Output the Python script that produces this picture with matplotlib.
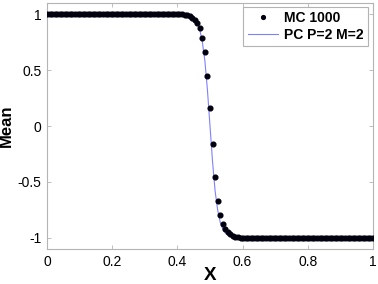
import matplotlib
matplotlib.use("Agg")
import matplotlib.pyplot as plt
import numpy as np

plt.rcParams['font.family'] = ['Liberation Sans', 'DejaVu Sans']

# Grid: 129 points from 0 to 1 (step 1/128)
n_points = 129
x = np.linspace(0.0, 1.0, n_points)

# MC 1000 values — plateau at 1, transition, plateau at -1
mc_upper = [1.0] * 52
mc_transition = [1.0, 0.999, 0.997, 0.993, 0.985, 0.97, 0.95, 0.92, 0.88, 0.79,
                 0.66, 0.45, 0.16, -0.16, -0.46, -0.67, -0.80, -0.88, -0.92, -0.95,
                 -0.97, -0.985, -0.993, -0.997, -0.999]
mc_lower = [-1.0] * (n_points - 52 - len(mc_transition))
mc_mean = mc_upper + mc_transition + mc_lower

# PC P=2 M=2 values
pc_upper = [1.0] * 52
pc_transition = [1.0, 0.999, 0.997, 0.994, 0.987, 0.975, 0.955, 0.92, 0.86, 0.75,
                 0.58, 0.32, 0.0, -0.32, -0.58, -0.75, -0.86, -0.92, -0.955, -0.975,
                 -0.987, -0.994, -0.997, -0.999, -1.0]
pc_lower = [-1.0] * (n_points - 52 - len(pc_transition))
pc_mean = pc_upper + pc_transition + pc_lower

xticks = [0, 0.2, 0.4, 0.6, 0.8, 1]
xticklabels = ['0', '0.2', '0.4', '0.6', '0.8', '1']
yticks = [-1, -0.5, 0, 0.5, 1]
yticklabels = ['-1', '-0.5', '0', '0.5', '1']

fig = plt.figure(figsize=(3.78, 2.84), dpi=100)
ax = fig.add_axes([47/378, 1 - 249/284, 326/378, 246/284])

ax.plot(x, pc_mean, color='#8080ff', linewidth=0.8, label='PC P=2 M=2', zorder=2)
ax.plot(x, mc_mean, linestyle='none', marker='o', markersize=3.4,
        color='#00000f', label='MC 1000', zorder=3)

ax.set_xlim(0, 1)
ax.set_ylim(-1.1, 1.1)
ax.set_xticks(xticks)
ax.set_xticklabels(xticklabels)
ax.set_yticks(yticks)
ax.set_yticklabels(yticklabels)

for sp in ax.spines.values():
    sp.set_color('#b4b4b4')
    sp.set_linewidth(0.8)
ax.tick_params(direction='in', length=3, width=0.6, color='#b4b4b4',
               top=True, right=True, labelsize=10, labelcolor='black', pad=4)

ax.set_xlabel('X', fontsize=13.5, fontweight='bold')
ax.set_ylabel('Mean', fontsize=12, fontweight='bold')
ax.xaxis.set_label_coords(0.5, -0.072)
ax.yaxis.set_label_coords(-0.101, 0.5)

handles, labels = ax.get_legend_handles_labels()
order = [1, 0]
leg = ax.legend([handles[i] for i in order], [labels[i] for i in order],
                loc='upper right', prop={'weight': 'bold', 'size': 10},
                frameon=True, fancybox=False, bbox_to_anchor=(368/378, 1 - 7/284),
                bbox_transform=fig.transFigure, borderaxespad=0.0,
                handlelength=2.2, handletextpad=0.45, borderpad=0.3,
                labelspacing=0.2, markerscale=0.8)
leg.get_frame().set_edgecolor('#a0a0a0')
leg.get_frame().set_linewidth(0.8)

fig.savefig('out.png', dpi=100)
